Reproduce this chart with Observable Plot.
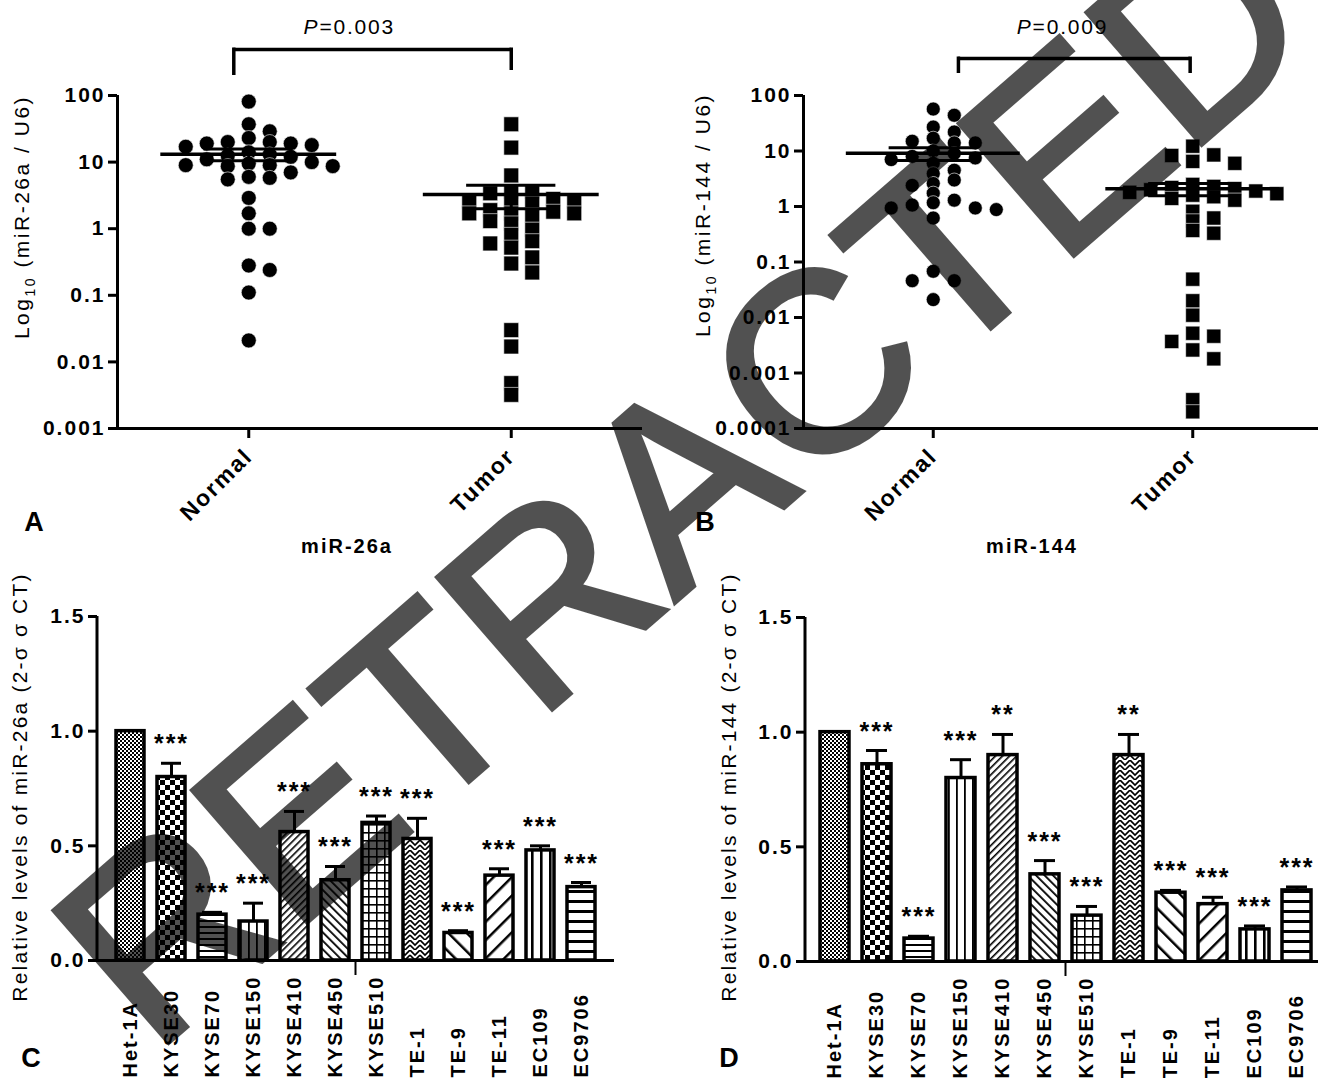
<!DOCTYPE html>
<html>
<head>
<meta charset="utf-8">
<script src="https://cdn.jsdelivr.net/npm/d3@7"></script>
<script src="https://cdn.jsdelivr.net/npm/@observablehq/plot@0.6"></script>
<style>
  html, body { margin: 0; padding: 0; background: #fff; }
  body { width: 1318px; height: 1078px; overflow: hidden; position: relative; font-family: "Liberation Sans", Arial, sans-serif; }
  .panel { position: absolute; }
  .panel svg { overflow: visible; }
</style>
</head>
<body>
<svg width="0" height="0" style="position:absolute;left:0;top:0">
  <defs>
    <pattern id="pat-0" width="4" height="4" patternUnits="userSpaceOnUse"><rect width="4" height="4" fill="#fff"/><rect x="0" y="0" width="2" height="2" fill="#000"/><rect x="2" y="2" width="2" height="2" fill="#000"/></pattern>
    <pattern id="pat-1" width="10" height="10" patternUnits="userSpaceOnUse"><rect width="10" height="10" fill="#fff"/><rect x="0" y="0" width="5" height="5" fill="#000"/><rect x="5" y="5" width="5" height="5" fill="#000"/></pattern>
    <pattern id="pat-2" width="6" height="6" patternUnits="userSpaceOnUse"><rect width="6" height="6" fill="#fff"/><rect x="0" y="0" width="6" height="2" fill="#000"/></pattern>
    <pattern id="pat-3" width="8" height="8" patternUnits="userSpaceOnUse"><rect width="8" height="8" fill="#fff"/><rect x="0" y="0" width="1.8" height="8" fill="#000"/></pattern>
    <pattern id="pat-4" width="5" height="5" patternUnits="userSpaceOnUse" patternTransform="rotate(45)"><rect width="5" height="5" fill="#fff"/><rect x="0" y="0" width="1.6" height="5" fill="#000"/></pattern>
    <pattern id="pat-5" width="6" height="6" patternUnits="userSpaceOnUse" patternTransform="rotate(-45)"><rect width="6" height="6" fill="#fff"/><rect x="0" y="0" width="1.8" height="6" fill="#000"/></pattern>
    <pattern id="pat-6" width="8" height="8" patternUnits="userSpaceOnUse"><rect width="8" height="8" fill="#fff"/><rect x="0" y="0" width="8" height="1.6" fill="#000"/><rect x="0" y="0" width="1.6" height="8" fill="#000"/></pattern>
    <pattern id="pat-7" width="10" height="10" patternUnits="userSpaceOnUse"><rect width="10" height="10" fill="#fff"/><path d="M0 0 L5 5 L10 0 M0 5 L5 10 L10 5" fill="none" stroke="#000" stroke-width="1.6"/></pattern>
    <pattern id="pat-8" width="13" height="13" patternUnits="userSpaceOnUse" patternTransform="rotate(-45)"><rect width="13" height="13" fill="#fff"/><rect x="0" y="0" width="2.5" height="13" fill="#000"/></pattern>
    <pattern id="pat-9" width="13" height="13" patternUnits="userSpaceOnUse" patternTransform="rotate(45)"><rect width="13" height="13" fill="#fff"/><rect x="0" y="0" width="2.5" height="13" fill="#000"/></pattern>
    <pattern id="pat-10" width="9" height="9" patternUnits="userSpaceOnUse"><rect width="9" height="9" fill="#fff"/><rect x="0" y="0" width="2.6" height="9" fill="#000"/></pattern>
    <pattern id="pat-11" width="10" height="10" patternUnits="userSpaceOnUse"><rect width="10" height="10" fill="#fff"/><rect x="0" y="0" width="10" height="3" fill="#000"/></pattern>
  </defs>
</svg>
<div id="panelA" class="panel" style="left:0px;top:0px;width:660px;height:560px"></div>
<div id="panelB" class="panel" style="left:660px;top:0px;width:662px;height:560px"></div>
<div id="panelC" class="panel" style="left:0px;top:560px;width:660px;height:518px"></div>
<div id="panelD" class="panel" style="left:660px;top:560px;width:667px;height:518px"></div>
<svg id="wm" width="1318" height="1078" style="position:absolute;left:0;top:0;pointer-events:none"></svg>
<script>
// ---------------- DATA ----------------
const groups = ["Normal", "Tumor"];

// Panel A: miR-26a, Log10 (miR-26a / U6)
const mir26aNormal = [81, 37, 29, 23, 20, 20, 19, 19, 18, 17, 14, 13, 12.5, 12, 11, 10, 9.5, 9, 9, 8.7, 8.7, 7, 6, 5.8, 5.5, 2.9, 1.7, 1.0, 1.0, 0.28, 0.24, 0.11, 0.021];
const mir26aTumor = [37, 16.5, 6.3, 3.6, 3.6, 3.4, 2.8, 2.6, 2.6, 2.5, 2.4, 1.9, 1.8, 1.7, 1.7, 1.7, 1.6, 1.3, 1.2, 0.97, 0.81, 0.65, 0.6, 0.52, 0.37, 0.3, 0.22, 0.03, 0.017, 0.0048, 0.0032];
const ticksA = [100, 10, 1, 0.1, 0.01, 0.001];
const pValueA = "0.003";

// Panel B: miR-144, Log10 (miR-144 / U6)
const mir144Normal = [57, 44, 27, 22, 17, 15, 14, 14, 10, 9, 8, 7.5, 7, 6, 4.5, 3.9, 3.0, 2.6, 2.4, 1.74, 1.3, 1.17, 1.06, 0.94, 0.94, 0.88, 0.62, 0.068, 0.046, 0.046, 0.021];
const mir144Tumor = [12.2, 8.5, 8.3, 6.5, 6, 2.5, 2.3, 2.2, 2.1, 2.0, 1.9, 1.8, 1.7, 1.6, 1.5, 1.4, 1.3, 0.82, 0.62, 0.55, 0.37, 0.33, 0.049, 0.02, 0.011, 0.0052, 0.0046, 0.0037, 0.0026, 0.0018, 0.00033, 0.0002];
const ticksB = [100, 10, 1, 0.1, 0.01, 0.001, 0.0001];
const pValueB = "0.009";

// Panels C and D: cell lines
const cellLines = ["Het-1A", "KYSE30", "KYSE70", "KYSE150", "KYSE410", "KYSE450", "KYSE510", "TE-1", "TE-9", "TE-11", "EC109", "EC9706"];
const mir26aLevel = [1.0, 0.80, 0.20, 0.17, 0.56, 0.35, 0.60, 0.53, 0.12, 0.37, 0.48, 0.32];
const mir26aSem   = [0,   0.06, 0.01, 0.08, 0.09, 0.06, 0.03, 0.09, 0.01, 0.03, 0.02, 0.02];
const mir26aSig   = ["", "***", "***", "***", "***", "***", "***", "***", "***", "***", "***", "***"];
const mir144Level = [1.0, 0.86, 0.10, 0.80, 0.90, 0.38, 0.20, 0.90, 0.30, 0.25, 0.14, 0.31];
const mir144Sem   = [0,   0.06, 0.01, 0.08, 0.09, 0.06, 0.04, 0.09, 0.01, 0.03, 0.015, 0.015];
const mir144Sig   = ["", "***", "***", "***", "**", "***", "***", "**", "***", "***", "***", "***"];
const barTicks = [0, 0.5, 1.0, 1.5];

// ---------------- RENDER ----------------
const FONT = '"Liberation Sans", Arial, Helvetica, sans-serif';
const baseStyle = {fontFamily: FONT, fontSize: "21px", fontWeight: "bold", letterSpacing: "2px", color: "#000", background: "transparent", maxWidth: "none", overflow: "visible"};

// Prism-like column scatter: place each point in the nearest free column
function beeswarm(values, decadePx, gap) {
  const order = [0, 1, -1, 2, -2, 3, -3, 4, -4, 5, -5, 6, -6];
  const placed = [];
  const sorted = values.map(v => v).sort((a, b) => b - a);
  for (const v of sorted) {
    const y = Math.log10(v) * decadePx;
    for (const k of order) {
      if (placed.every(p => p.k !== k || Math.abs(p.y - y) >= gap)) { placed.push({v, y, k}); break; }
    }
  }
  return placed;
}

function scatterPanel(cfg) {
  const pts = [], stats = [];
  [cfg.normal, cfg.tumor].forEach((vals, g) => {
    for (const p of beeswarm(vals, cfg.decadePx, cfg.gap)) pts.push({g, value: p.v, x: g + p.k * cfg.colStep});
    const m = d3.mean(vals), s = d3.deviation(vals) / Math.sqrt(vals.length);
    stats.push({g, mean: m, hi: m + s, lo: m - s});
  });
  const [y0, y1] = cfg.yDomain;
  const plot = Plot.plot({
    width: cfg.width, height: cfg.height,
    marginLeft: cfg.marginLeft, marginRight: cfg.marginRight, marginTop: cfg.marginTop, marginBottom: cfg.marginBottom,
    x: {domain: [-0.5, 1.5], axis: null},
    y: {type: "log", domain: cfg.yDomain, axis: null},
    style: baseStyle,
    marks: [
      Plot.axisY({ticks: cfg.yTicks, tickFormat: d => String(d), tickSize: 9, tickPadding: 3, strokeWidth: 3, label: null}),
      Plot.axisX({ticks: [0, 1], tickFormat: i => groups[i], tickSize: 10, tickPadding: 14, tickRotate: -45, strokeWidth: 3, fontSize: 23, label: null}),
      Plot.ruleX([-0.5], {y1: y0, y2: y1, strokeWidth: 3}),
      Plot.ruleY([y0], {x1: -0.5, x2: 1.5, strokeWidth: 3}),
      Plot.dot(pts.filter(d => d.g === 0), {x: "x", y: "value", r: cfg.circleR, fill: "#000", stroke: "#fff", strokeWidth: 0.6, symbol: "circle"}),
      Plot.dot(pts.filter(d => d.g === 1), {x: "x", y: "value", r: cfg.squareR, fill: "#000", stroke: "#fff", strokeWidth: 0.6, symbol: "square"}),
      Plot.ruleY(stats, {y: "mean", x1: d => d.g - 0.335, x2: d => d.g + 0.335, strokeWidth: 3.5}),
      Plot.ruleY(stats, {y: "hi", x1: d => d.g - 0.17, x2: d => d.g + 0.17, strokeWidth: 3}),
      Plot.ruleY(stats, {y: "lo", x1: d => d.g - 0.17, x2: d => d.g + 0.17, strokeWidth: 3}),
      Plot.ruleX(stats, {x: "g", y1: "lo", y2: "hi", strokeWidth: 3}),
      Plot.ruleY([y1], {x1: cfg.bracket[0], x2: cfg.bracket[1], dy: -cfg.bracketRise, strokeWidth: 3.5}),
      Plot.ruleX([cfg.bracket[0]], {y1: y1, y2: y1, insetTop: -cfg.bracketRise - 1.5, insetBottom: cfg.legs[0], strokeWidth: 3.5}),
      Plot.ruleX([cfg.bracket[1]], {y1: y1, y2: y1, insetTop: -cfg.bracketRise - 1.5, insetBottom: cfg.legs[1], strokeWidth: 3.5})
    ]
  });
  const svg = d3.select(plot);
  const xs = plot.scale("x");
  // P value label
  const p = svg.append("text").attr("x", xs.apply(cfg.pX)).attr("y", cfg.pY)
    .attr("text-anchor", "middle").style("font-weight", "normal").style("font-size", "21px").style("letter-spacing", "1.8px");
  p.append("tspan").style("font-style", "italic").text("P");
  p.append("tspan").text("=" + cfg.pValue);
  // Y title with subscript
  const t = svg.append("text").attr("transform", `translate(${cfg.titleX},${cfg.titleY}) rotate(-90)`)
    .attr("text-anchor", "middle").style("font-weight", "normal").style("font-size", "21px").style("letter-spacing", "2.5px");
  t.append("tspan").text("Log");
  t.append("tspan").attr("dy", 6).style("font-size", "14px").text("10");
  t.append("tspan").attr("dy", -6).text(" (" + cfg.gene + " / U6)");
  // Group label and panel letter
  svg.append("text").attr("x", cfg.geneX).attr("y", 553).attr("text-anchor", "middle").style("font-size", "20px").text(cfg.gene);
  svg.append("text").attr("x", cfg.letterX).attr("y", 531).attr("text-anchor", "middle").style("font-size", "27px").style("letter-spacing", "0px").text(cfg.letter);
  document.getElementById(cfg.el).appendChild(plot);
}

function barPanel(cfg) {
  const rows = cellLines.map((line, i) => ({line, level: cfg.level[i], sem: cfg.sem[i], sig: cfg.sig[i], fill: `url(#pat-${i})`}));
  const withErr = rows.filter(d => d.sem > 0);
  const plot = Plot.plot({
    width: cfg.width, height: cfg.height,
    marginLeft: cfg.marginLeft, marginRight: cfg.marginRight, marginTop: cfg.marginTop, marginBottom: cfg.marginBottom,
    x: {domain: cellLines, paddingInner: cfg.padIn, paddingOuter: cfg.padOut, axis: null},
    y: {domain: [0, 1.5], axis: null},
    color: {type: "identity"},
    style: baseStyle,
    marks: [
      Plot.axisY({ticks: barTicks, tickFormat: d3.format(".1f"), tickSize: 9, tickPadding: 3, strokeWidth: 3, label: null}),
      Plot.ruleX(withErr, {x: "line", y1: "level", y2: d => d.level + d.sem, strokeWidth: 3}),
      Plot.tickY(withErr, {x: "line", y: d => d.level + d.sem, strokeWidth: 3, insetLeft: 4, insetRight: 4}),
      Plot.barY(rows, {x: "line", y: "level", fill: "fill", stroke: "#000", strokeWidth: 3.5}),
      Plot.text(rows.filter(d => d.sig), {x: "line", y: d => d.level + d.sem, text: "sig", dy: -11, lineAnchor: "bottom", fontSize: 25, letterSpacing: "0.5px"}),
      Plot.ruleY([0], {strokeWidth: 3}),
      Plot.text(rows, {x: "line", text: "line", frameAnchor: "bottom", rotate: -90, textAnchor: "start", lineAnchor: "middle", dy: cfg.labelDrop, fontSize: 20, letterSpacing: "3px"})
    ]
  });
  const svg = d3.select(plot);
  const xs = plot.scale("x"), ys = plot.scale("y");
  // y axis line
  svg.append("line").attr("x1", cfg.marginLeft).attr("x2", cfg.marginLeft).attr("y1", ys.apply(1.5)).attr("y2", ys.apply(0))
    .attr("stroke", "#000").attr("stroke-width", 3);
  // small tick below axis between KYSE450 and KYSE510
  const xb = (xs.apply("KYSE450") + xs.bandwidth + xs.apply("KYSE510")) / 2;
  svg.append("line").attr("x1", xb).attr("x2", xb).attr("y1", ys.apply(0)).attr("y2", ys.apply(0) + 15).attr("stroke", "#000").attr("stroke-width", 2);
  // y title
  svg.append("text").attr("transform", `translate(${cfg.titleX},${cfg.titleY}) rotate(-90)`).attr("text-anchor", "middle")
    .style("font-weight", "normal").style("font-size", "21px").style("letter-spacing", "2.2px")
    .text("Relative levels of " + cfg.gene + " (2-σ σ CT)");
  svg.append("text").attr("x", cfg.letterX).attr("y", 507).attr("text-anchor", "middle").style("font-size", "27px").style("letter-spacing", "0px").text(cfg.letter);
  document.getElementById(cfg.el).appendChild(plot);
}

scatterPanel({el: "panelA", normal: mir26aNormal, tumor: mir26aTumor, yDomain: [0.001, 100], yTicks: ticksA,
  width: 660, height: 560, marginLeft: 117, marginRight: 18, marginTop: 95, marginBottom: 132,
  decadePx: 66.6, gap: 10, colStep: 0.08, circleR: 7.5, squareR: 8.4,
  bracket: [-0.057, 1.0], bracketRise: 46, legs: [20, 25], pX: 0.385, pY: 34, pValue: pValueA,
  gene: "miR-26a", titleX: 29, titleY: 217, geneX: 347, letter: "A", letterX: 34});

scatterPanel({el: "panelB", normal: mir144Normal, tumor: mir144Tumor, yDomain: [0.0001, 100], yTicks: ticksB,
  width: 662, height: 560, marginLeft: 143, marginRight: 0, marginTop: 95, marginBottom: 132,
  decadePx: 55.5, gap: 9.5, colStep: 0.081, circleR: 7, squareR: 8,
  bracket: [0.097, 0.99], bracketRise: 37, legs: [22, 22], pX: 0.5, pY: 34, pValue: pValueB,
  gene: "miR-144", titleX: 50, titleY: 215, geneX: 372, letter: "B", letterX: 45});

barPanel({el: "panelC", level: mir26aLevel, sem: mir26aSem, sig: mir26aSig, gene: "miR-26a",
  width: 660, height: 518, marginLeft: 97, marginRight: 46, marginTop: 56, marginBottom: 118,
  padIn: 0.31, padOut: 0.31, labelDrop: 117, titleX: 27, titleY: 227, letter: "C", letterX: 31});

barPanel({el: "panelD", level: mir144Level, sem: mir144Sem, sig: mir144Sig, gene: "miR-144",
  width: 667, height: 518, marginLeft: 145, marginRight: 0, marginTop: 57, marginBottom: 117,
  padIn: 0.30, padOut: 0.25, labelDrop: 117, titleX: 76, titleY: 227, letter: "D", letterX: 69});

// RETRACTED watermark
const wm = d3.select("#wm").append("g").attr("opacity", 0.68);
wm.append("text").attr("transform", "translate(153,1056) rotate(-41)")
  .attr("font-family", FONT).attr("font-size", 254).attr("fill", "#000").attr("stroke", "#000").attr("stroke-width", 5)
  .text("RETRACTED");
</script>
</body>
</html>
